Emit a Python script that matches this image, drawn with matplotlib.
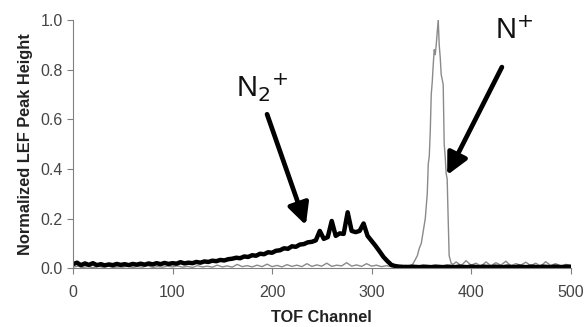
import numpy as np
import matplotlib
matplotlib.use("Agg")
import matplotlib.pyplot as plt

plt.rcParams['font.family'] = ['Liberation Sans', 'DejaVu Sans']

# N2+ trace (thick black), one value every 4 TOF channels from 0 to 500
n2_channel = np.arange(0, 501, 4)
n2_signal = [
    0.016, 0.022, 0.012, 0.019, 0.013, 0.020, 0.012, 0.016, 0.011, 0.015,
    0.012, 0.017, 0.013, 0.016, 0.012, 0.017, 0.014, 0.018, 0.014, 0.019,
    0.015, 0.020, 0.016, 0.021, 0.017, 0.020, 0.018, 0.024, 0.019, 0.022,
    0.020, 0.025, 0.022, 0.027, 0.025, 0.030, 0.028, 0.033, 0.031, 0.036,
    0.038, 0.042, 0.040, 0.047, 0.045, 0.052, 0.050, 0.058, 0.056, 0.064,
    0.062, 0.070, 0.072, 0.080, 0.078, 0.088, 0.086, 0.095, 0.097, 0.104,
    0.106, 0.112, 0.150, 0.118, 0.125, 0.190, 0.130, 0.140, 0.138, 0.225,
    0.150, 0.145, 0.150, 0.180, 0.130, 0.110, 0.090, 0.068, 0.045, 0.028,
    0.013, 0.008, 0.006, 0.005, 0.004, 0.006, 0.005, 0.004, 0.006, 0.005,
    0.004, 0.006, 0.005, 0.004, 0.006, 0.005, 0.004, 0.006, 0.005, 0.004,
    0.006, 0.005, 0.004, 0.006, 0.005, 0.004, 0.006, 0.005, 0.004, 0.006,
    0.005, 0.004, 0.006, 0.005, 0.004, 0.006, 0.005, 0.004, 0.006, 0.005,
    0.004, 0.006, 0.005, 0.004, 0.006, 0.005,
]

# N+ trace (thin grey)
n_channel = (list(range(0, 341, 5))
             + [342, 344, 346, 348, 350, 352, 354, 356, 357, 358, 359, 360,
                361, 362, 363, 364, 365, 366, 367, 368, 369, 370, 371, 372,
                373, 374, 375, 376, 377, 378, 380, 382]
             + list(range(385, 501, 5)))
n_signal = [
    0.004, 0.008, 0.003, 0.006, 0.002, 0.007, 0.004, 0.009, 0.003, 0.005,
    0.004, 0.008, 0.003, 0.006, 0.004, 0.010, 0.003, 0.006, 0.004, 0.008,
    0.005, 0.009, 0.004, 0.007, 0.003, 0.010, 0.005, 0.008, 0.004, 0.012,
    0.005, 0.009, 0.004, 0.015, 0.006, 0.010, 0.005, 0.012, 0.006, 0.016,
    0.006, 0.011, 0.005, 0.014, 0.007, 0.012, 0.006, 0.018, 0.007, 0.013,
    0.008, 0.020, 0.007, 0.012, 0.009, 0.022, 0.008, 0.013, 0.007, 0.018,
    0.008, 0.012, 0.006, 0.010, 0.005, 0.009, 0.006, 0.012, 0.008,
    0.020, 0.035, 0.050, 0.080, 0.100, 0.150, 0.200, 0.300, 0.420, 0.450,
    0.550, 0.700, 0.750, 0.820, 0.880, 0.860, 0.900, 0.950, 1.000, 0.900,
    0.850, 0.780, 0.760, 0.740, 0.500, 0.450, 0.380, 0.360, 0.200, 0.050,
    0.020, 0.015,
    0.025, 0.010, 0.030, 0.012, 0.020, 0.008, 0.025, 0.010, 0.022, 0.012,
    0.028, 0.009, 0.018, 0.012, 0.024, 0.010, 0.020, 0.008, 0.026, 0.011,
    0.018, 0.009, 0.015, 0.012,
]

fig = plt.figure(figsize=(5.84, 3.27), dpi=100)
ax = fig.add_axes([0.125, 0.18, 0.852, 0.759])

ax.plot(n_channel, n_signal, color='#8a8a8a', lw=1.0)
ax.plot(n2_channel, n2_signal, color='black', lw=3.2)

ax.set_xlim(0, 500)
ax.set_ylim(0, 1.0)
ax.set_xticks([0, 100, 200, 300, 400, 500])
ax.set_yticks([0.0, 0.2, 0.4, 0.6, 0.8, 1.0])
ax.yaxis.set_major_formatter(plt.FormatStrFormatter('%.1f'))

for side in ['top', 'right']:
    ax.spines[side].set_visible(False)
for side in ['left', 'bottom']:
    ax.spines[side].set_color('#808080')
ax.tick_params(colors='#808080', labelcolor='#444444', labelsize=11.5,
               length=4, direction='out')
ax.tick_params(axis='x', pad=8)

ax.set_xlabel('TOF Channel', fontsize=11.7, fontweight='bold', color='#222222', labelpad=7)
ax.set_ylabel('Normalized LEF Peak Height', fontsize=11.8, fontweight='bold',
              color='#222222', labelpad=5)

arrow = dict(arrowstyle='-|>', lw=3.4, color='black', mutation_scale=32, shrinkA=0, shrinkB=0)
ax.annotate('', xy=(234, 0.173), xytext=(195, 0.62), arrowprops=arrow)
ax.annotate('', xy=(376, 0.375), xytext=(431, 0.81), arrowprops=arrow)
ax.text(190, 0.66, r'N$_2$$^{+}$', fontsize=21, ha='center', va='bottom', color='#111111')
ax.text(443, 0.9, r'N$^{+}$', fontsize=21, ha='center', va='bottom', color='#111111')

fig.savefig('out.png', dpi=100)
